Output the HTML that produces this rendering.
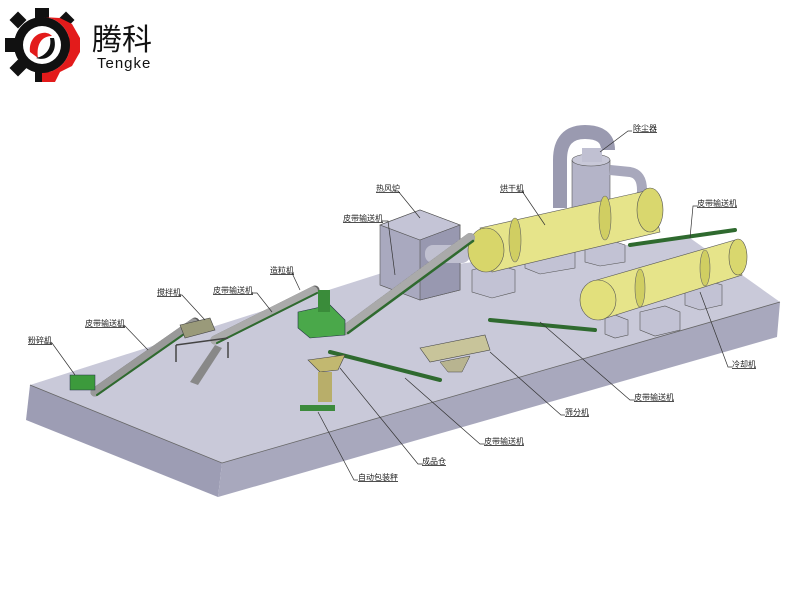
<!DOCTYPE html>
<html><head><meta charset="utf-8"><style>
body{margin:0;background:#fff;width:800px;height:600px;overflow:hidden}
svg{display:block}
.l{font-family:"Liberation Sans","Noto Sans CJK SC",sans-serif;font-size:8px;fill:#222;text-decoration:underline}
.ld{stroke:#333;stroke-width:0.7;fill:none}
</style></head><body>
<svg width="800" height="600" viewBox="0 0 800 600">
<!-- logo -->
<g>
<circle cx="42" cy="45" r="28" fill="#111"/>
<g fill="#111">
<rect x="35" y="8" width="14" height="12"/><rect x="35" y="70" width="14" height="12"/>
<rect x="5" y="38" width="12" height="14"/><rect x="67" y="38" width="12" height="14"/>
<rect x="12" y="14" width="12" height="12" transform="rotate(45 18 20)"/>
<rect x="60" y="14" width="12" height="12" transform="rotate(45 66 20)"/>
<rect x="12" y="62" width="12" height="12" transform="rotate(45 18 68)"/>
</g>
<path d="M42 17 A28 28 0 0 1 70 45 A28 28 0 0 1 42 73 L42 82 L55 82 L60 72 L72 66 L80 52 L80 38 L72 24 L60 18 Z" fill="#e31b1b"/>
<circle cx="42" cy="45" r="19" fill="#fff"/>
<path d="M30 52 C28 35 45 28 52 36 C42 36 36 44 38 58 Z" fill="#e31b1b"/>
<path d="M54 38 C58 52 48 62 36 58 C46 56 52 48 50 38 Z" fill="#111"/>
<text x="92" y="50" font-family="'Noto Sans CJK SC',sans-serif" font-size="30" fill="#111">腾科</text>
<text x="97" y="68" font-family="'Liberation Sans',sans-serif" font-size="15" fill="#111" letter-spacing="1">Tengke</text>
</g>
<!-- platform -->
<polygon points="30,385 385,272 690,238 780,302 222,463" fill="#c9c9d9"/>
<polygon points="30,385 222,463 218,497 26,420" fill="#9d9db4"/>
<polygon points="222,463 780,302 777,337 218,497" fill="#a8a8bd"/>
<polyline points="30,385 222,463 780,302" fill="none" stroke="#666" stroke-width="0.8"/>
<!-- furnace -->
<polygon points="380,225 420,210 460,225 460,290 420,300 380,285" fill="#a9a9bf" stroke="#555" stroke-width="0.6"/>
<polygon points="380,225 420,210 460,225 420,240" fill="#c4c4d6" stroke="#555" stroke-width="0.6"/>
<polygon points="420,240 460,225 460,290 420,300" fill="#9898b0" stroke="#555" stroke-width="0.6"/>
<rect x="425" y="245" width="45" height="18" fill="#c0c0d0" rx="8"/>
<!-- blocks -->
<g fill="#c2c2d4" stroke="#555" stroke-width="0.6">
<polygon points="472,270 495,264 515,270 515,292 492,298 472,292"/>
<polygon points="525,250 560,244 575,250 575,268 540,274 525,268"/>
<polygon points="585,245 610,240 625,245 625,262 600,266 585,262"/>
<polygon points="605,318 615,315 628,320 628,335 615,338 605,334"/>
<polygon points="640,312 665,306 680,312 680,330 655,336 640,330"/>
<polygon points="685,285 705,280 722,285 722,305 700,310 685,305"/>
</g>
<!-- cyclone & pipes -->
<path d="M560 208 L560 160 Q560 132 585 132 Q608 132 608 150" fill="none" stroke="#9a9ab0" stroke-width="14"/>
<rect x="572" y="160" width="38" height="50" fill="#b4b4c8" stroke="#555" stroke-width="0.6"/>
<ellipse cx="591" cy="160" rx="19" ry="6" fill="#c8c8d8" stroke="#555" stroke-width="0.6"/>
<rect x="582" y="148" width="20" height="14" fill="#c0c0d2"/>
<path d="M610 170 L630 172 Q642 174 642 190 L642 200" fill="none" stroke="#a8a8bc" stroke-width="10"/>
<!-- dryer -->
<g>
<polygon points="480,228 650,190 660,232 492,272" fill="#e6e48a" stroke="#555" stroke-width="0.6"/>
<ellipse cx="650" cy="210" rx="13" ry="22" fill="#d9d76e" stroke="#555" stroke-width="0.6"/>
<ellipse cx="486" cy="250" rx="18" ry="22" fill="#d8d66a" stroke="#555" stroke-width="0.6"/>
<ellipse cx="605" cy="218" rx="6" ry="22" fill="#d0ce62" stroke="#666" stroke-width="0.6"/>
<ellipse cx="515" cy="240" rx="6" ry="22" fill="#d0ce62" stroke="#666" stroke-width="0.6"/>
</g>
<!-- cooler -->
<g>
<polygon points="590,282 735,240 742,275 600,320" fill="#e6e48a" stroke="#555" stroke-width="0.6"/>
<ellipse cx="738" cy="257" rx="9" ry="18" fill="#d9d76e" stroke="#555" stroke-width="0.6"/>
<ellipse cx="598" cy="300" rx="18" ry="20" fill="#e2e07c" stroke="#555" stroke-width="0.6"/>
<ellipse cx="640" cy="288" rx="5" ry="19" fill="#d0ce62" stroke="#666" stroke-width="0.6"/>
<ellipse cx="705" cy="268" rx="5" ry="18" fill="#d0ce62" stroke="#666" stroke-width="0.6"/>
</g>
<!-- conveyors -->
<g stroke="#2f6a2f" fill="none" stroke-linecap="round">
<line x1="95" y1="392" x2="195" y2="322" stroke-width="9" stroke="#5a5a5a"/>
<line x1="95" y1="392" x2="195" y2="322" stroke-width="9" stroke="#999" stroke-dasharray="1.5 2"/>
<line x1="97" y1="395" x2="197" y2="325" stroke-width="2"/>
<line x1="215" y1="340" x2="315" y2="290" stroke-width="9" stroke="#666"/>
<line x1="215" y1="340" x2="315" y2="290" stroke-width="9" stroke="#aaa" stroke-dasharray="1.5 2"/>
<line x1="217" y1="343" x2="317" y2="293" stroke-width="2"/>
<line x1="345" y1="330" x2="470" y2="238" stroke-width="10" stroke="#707070"/>
<line x1="345" y1="330" x2="470" y2="238" stroke-width="10" stroke="#aaa" stroke-dasharray="1.5 2"/>
<line x1="348" y1="333" x2="473" y2="241" stroke-width="2.5"/>
<line x1="330" y1="352" x2="440" y2="380" stroke-width="4"/>
<line x1="490" y1="320" x2="595" y2="330" stroke-width="4"/>
<line x1="630" y1="245" x2="735" y2="230" stroke-width="4"/>
</g>
<!-- mixer -->
<polygon points="180,325 210,318 215,330 185,338" fill="#9a9a7a" stroke="#444" stroke-width="0.6"/>
<g stroke="#444" stroke-width="1.5"><line x1="176" y1="345" x2="176" y2="362"/><line x1="228" y1="342" x2="228" y2="358"/><line x1="176" y1="345" x2="228" y2="338"/></g>
<polygon points="190,382 215,345 222,348 198,385" fill="#888"/>
<!-- crusher -->
<rect x="70" y="375" width="25" height="15" fill="#3c9a3c" stroke="#234" stroke-width="0.5"/>
<!-- granulator -->
<polygon points="298,312 330,305 345,320 345,335 310,338 298,328" fill="#4aa84a" stroke="#234" stroke-width="0.6"/>
<rect x="318" y="290" width="12" height="22" fill="#3a8c3a"/>
<!-- screener -->
<polygon points="420,348 485,335 490,350 430,362" fill="#c8c49a" stroke="#444" stroke-width="0.6"/>
<polygon points="440,362 470,356 462,372 448,372" fill="#b8b490" stroke="#444" stroke-width="0.5"/>
<!-- product bin & packer -->
<polygon points="308,360 345,355 338,370 320,372" fill="#c2b870" stroke="#444" stroke-width="0.6"/>
<rect x="318" y="372" width="14" height="30" fill="#b8ae6a"/>
<rect x="300" y="405" width="35" height="6" fill="#3c8a3c"/>
<!-- leaders -->
<g class="ld">
<path d="M44 343 L52 343 L75 375"/>
<path d="M118 326 L125 326 L148 350"/>
<path d="M178 295 L182 295 L205 320"/>
<path d="M252 293 L257 293 L272 312"/>
<path d="M287 273 L292 273 L300 290"/>
<path d="M383 221 L388 221 L395 275"/>
<path d="M394 191 L398 191 L420 218"/>
<path d="M518 191 L522 191 L545 225"/>
<path d="M632 131 L628 131 L600 152"/>
<path d="M697 206 L693 206 L690 238"/>
<path d="M732 367 L728 367 L700 292"/>
<path d="M634 400 L630 400 L540 322"/>
<path d="M565 415 L561 415 L490 352"/>
<path d="M484 444 L480 444 L405 378"/>
<path d="M422 464 L418 464 L340 368"/>
<path d="M358 480 L354 480 L318 412"/>
</g>
<g class="l">
<text x="28" y="343">粉碎机</text>
<text x="85" y="326">皮带输送机</text>
<text x="157" y="295">搅拌机</text>
<text x="213" y="293">皮带输送机</text>
<text x="270" y="273">造粒机</text>
<text x="343" y="221">皮带输送机</text>
<text x="376" y="191">热风炉</text>
<text x="500" y="191">烘干机</text>
<text x="633" y="131">除尘器</text>
<text x="697" y="206">皮带输送机</text>
<text x="732" y="367">冷却机</text>
<text x="634" y="400">皮带输送机</text>
<text x="565" y="415">筛分机</text>
<text x="484" y="444">皮带输送机</text>
<text x="422" y="464">成品仓</text>
<text x="358" y="480">自动包装秤</text>
</g>
</svg>
</body></html>
